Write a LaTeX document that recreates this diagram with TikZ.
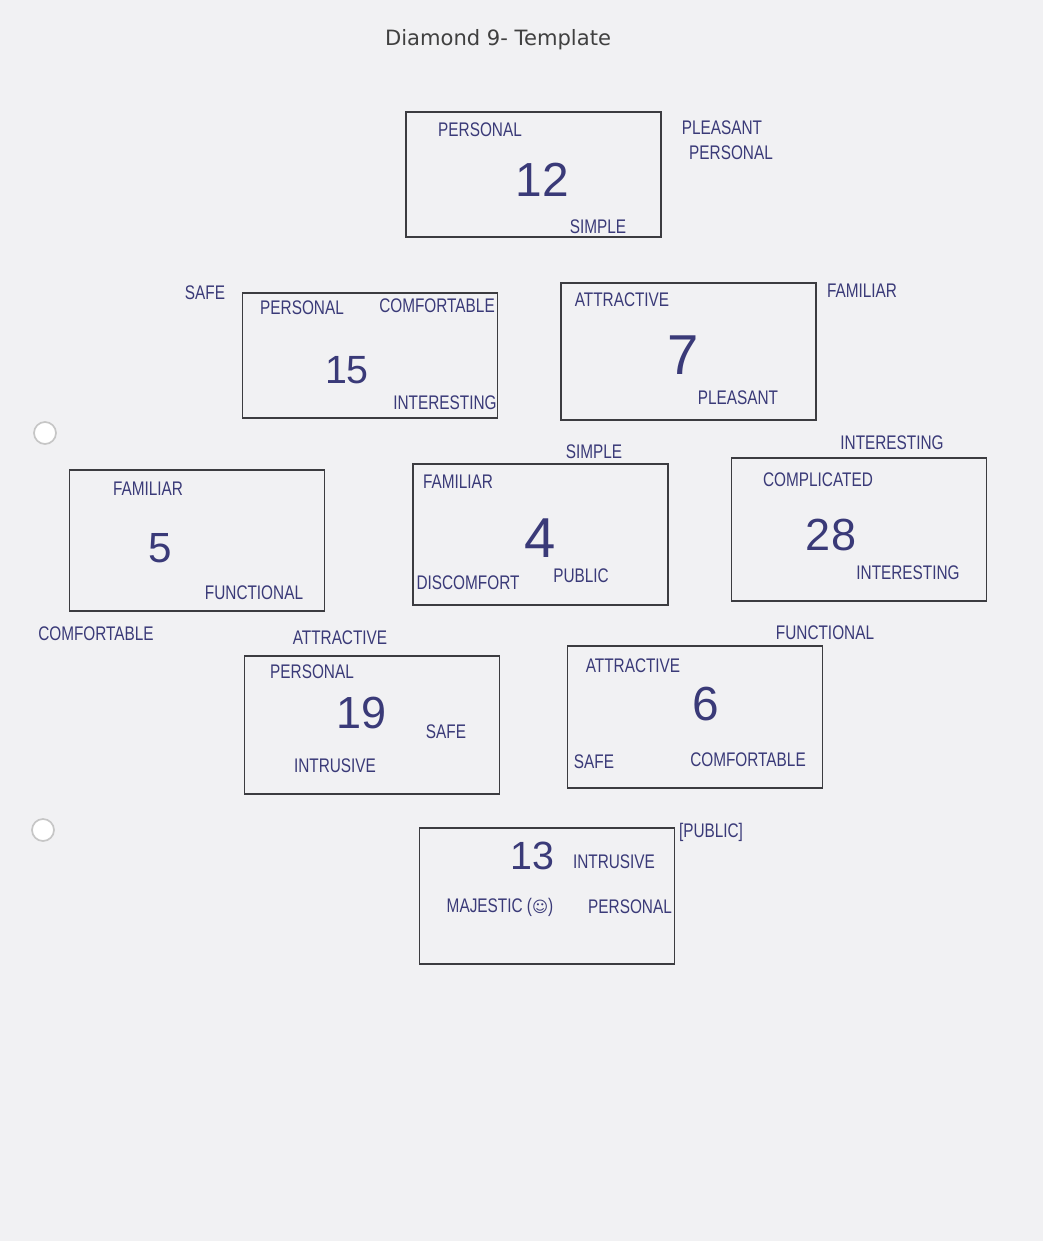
\documentclass[tikz,border=0pt]{standalone}
\usepackage{fontspec}
\setmainfont{Liberation Sans}
\newfontfamily\hand[FakeStretch=0.78]{Liberation Sans}
\newfontfamily\titlefont{DejaVu Sans}
\newfontfamily\symfont{DejaVu Sans}
\usepackage{xcolor}
\definecolor{ink}{HTML}{3A3A78}
\definecolor{paper}{HTML}{F1F1F3}
\definecolor{pen}{HTML}{3C3C40}

\begin{document}
\begin{tikzpicture}[x=0.025cm,y=-0.025cm,
  card/.style={draw=pen,line width=0.9pt,minimum width=6.375cm,inner sep=0pt},
  hw/.style={text=ink,font=\hand\fontsize{14}{16}\selectfont,inner sep=0pt},
  num/.style={text=ink,inner sep=0pt}]
\fill[paper] (0,0) rectangle (1043,1241);
\useasboundingbox (0,0) rectangle (1043,1241);
% punch holes at the left edge
\draw[gray!45,line width=1.2pt,fill=white] (45,433) circle (11);
\draw[gray!45,line width=1.2pt,fill=white] (43,830) circle (11);
\node[text=black!75,font=\titlefont\fontsize{15}{18}\selectfont,inner sep=0pt] (ttl) at (498,40) {Diamond 9- Template};
% the nine cards
\foreach \nm/\cx/\cy/\ht in {b12/533.5/174.5/125, b15/370/355.5/125, b7/688.5/351.5/137,
  b5/197/540.5/141, b4/540.5/534.5/141, b28/859/529.5/143,
  b19/372/725/138, b6/695/717/142, b13/547/896/136}
  {\node[card,minimum height={\ht*0.025cm}] (\nm) at (\cx,\cy) {};}
% rank numbers
\foreach \nm/\x/\y/\s/\t in {n12/542/180/34/12, n15/347/370/28/15, n7/683/355/40/7,
  n5/160/548/30/5, n4/540/538/40/4, n28/831/535/32/28,
  n19/362/713/32/19, n6/706/704/34/6, n13/532/856/28/13}
  {\node[num,font=\fontsize{\s}{\s}\selectfont] (\nm) at (\x,\y) {\t};}
% words written inside and round the cards
\foreach \nm/\x/\y/\t in {
  a1/480/130/PERSONAL, a2/598/227/SIMPLE, a3/722/128/PLEASANT, a4/731/153/PERSONAL,
  c1/205/293/SAFE, c2/302/308/PERSONAL, c3/437/306/COMFORTABLE, c4/445/403/INTERESTING,
  d1/622/300/ATTRACTIVE, d2/738/398/PLEASANT, d3/862/291/FAMILIAR,
  e1/594/452/SIMPLE, e2/892/443/INTERESTING,
  f1/148/489/FAMILIAR, f2/254/593/FUNCTIONAL, f3/96/634/COMFORTABLE,
  g1/458/482/FAMILIAR, g2/468/583/DISCOMFORT, g3/581/576/PUBLIC,
  h1/818/480/COMPLICATED, h2/908/573/INTERESTING,
  i1/340/638/ATTRACTIVE, i2/312/672/PERSONAL, i3/446/732/SAFE, i4/335/766/INTRUSIVE,
  j1/825/633/FUNCTIONAL, j2/633/666/ATTRACTIVE, j3/594/762/SAFE, j4/748/760/COMFORTABLE,
  k1/614/862/INTRUSIVE, k3/630/907/PERSONAL, k4/711/832/[PUBLIC]}
  {\node[hw] (\nm) at (\x,\y) {\t};}
\node[hw] (k2) at (500,907) {MAJESTIC ({\symfont\fontsize{11}{13}\selectfont ☺})};
\end{tikzpicture}
\end{document}
